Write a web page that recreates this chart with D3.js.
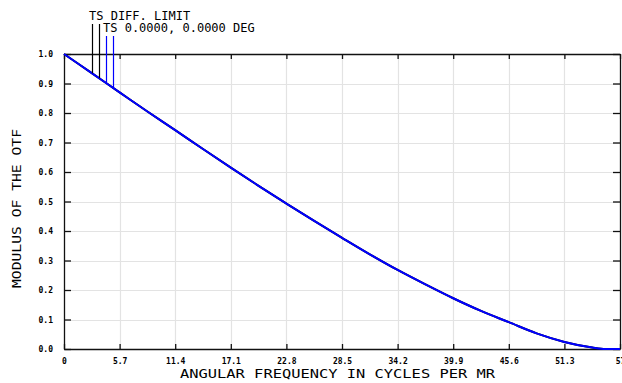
<!DOCTYPE html>
<html>
<head>
<meta charset="utf-8">
<script src="https://cdn.jsdelivr.net/npm/d3@7"></script>
<style>
  html, body { margin: 0; padding: 0; background: #fff; }
  svg { display: block; }
</style>
</head>
<body>
<script>
// Spatial frequency samples (cycles per mr)
const frequency = [0, 2.85, 5.7, 8.55, 11.4, 14.25, 17.1, 19.95, 22.8, 25.65, 28.5, 31.35,
                   34.2, 37.05, 39.9, 42.75, 45.6, 48.45, 51.3, 54.15, 55.5, 57];
// Diffraction-limited tangential MTF
const diffLimit = [1.000, 0.935, 0.870, 0.805, 0.742, 0.678, 0.615, 0.553, 0.493, 0.434, 0.377, 0.321,
                   0.268, 0.219, 0.172, 0.129, 0.091, 0.053, 0.024, 0.005, 0.000, 0.000];
// Tangential MTF at field 0.0000, 0.0000 deg
const tsField0 = [1.000, 0.935, 0.870, 0.805, 0.742, 0.678, 0.615, 0.553, 0.493, 0.434, 0.377, 0.321,
                  0.268, 0.219, 0.172, 0.129, 0.091, 0.053, 0.024, 0.005, 0.000, 0.000];

const xTicks = [0, 5.7, 11.4, 17.1, 22.8, 28.5, 34.2, 39.9, 45.6, 51.3, 57];
const xTickLabels = ["0", "5.7", "11.4", "17.1", "22.8", "28.5", "34.2", "39.9", "45.6", "51.3", "57"];
const yTicks = [0, 0.1, 0.2, 0.3, 0.4, 0.5, 0.6, 0.7, 0.8, 0.9, 1.0];
const yTickLabels = ["0.0", "0.1", "0.2", "0.3", "0.4", "0.5", "0.6", "0.7", "0.8", "0.9", "1.0"];

// Legend entries: label text and the frequencies where their leader lines drop to the curve
const legendLabels = ["TS DIFF. LIMIT", "TS 0.0000, 0.0000 DEG"];
const legendLeaders = [[2.87, 3.58], [4.27, 5.01]];

const W = 622, H = 383;
const plotL = 64, plotR = 620, plotT = 54, plotB = 349;

const svg = d3.select("body").append("svg")
  .attr("width", W).attr("height", H)
  .style("font-family", "'DejaVu Sans Mono', monospace");

const x = d3.scaleLinear().domain([0, 57]).range([plotL, plotR]);
const y = d3.scaleLinear().domain([0, 1]).range([plotB, plotT]);

// Grid
const grid = svg.append("g").attr("stroke", "#e3e3e3").attr("stroke-width", 1.2);
grid.selectAll("line.gx").data(xTicks.slice(1, -1)).join("line")
  .attr("x1", d => Math.round(x(d)) + 0.5).attr("x2", d => Math.round(x(d)) + 0.5)
  .attr("y1", plotT).attr("y2", plotB);
grid.selectAll("line.gy").data(yTicks.slice(1, -1)).join("line")
  .attr("x1", plotL).attr("x2", plotR)
  .attr("y1", d => Math.round(y(d)) + 0.5).attr("y2", d => Math.round(y(d)) + 0.5);

// Axes with inward ticks on all four sides
const fmtX = (d, i) => xTickLabels[i];
const fmtY = (d, i) => yTickLabels[i];

const axB = svg.append("g").attr("transform", `translate(0,${plotB})`)
  .call(d3.axisBottom(x).tickValues(xTicks).tickFormat(fmtX).tickSizeInner(-5).tickSizeOuter(0).tickPadding(9));
const axT = svg.append("g").attr("transform", `translate(0,${plotT})`)
  .call(d3.axisTop(x).tickValues(xTicks).tickFormat("").tickSizeInner(-5).tickSizeOuter(0));
const axL = svg.append("g").attr("transform", `translate(${plotL},0)`)
  .call(d3.axisLeft(y).tickValues(yTicks).tickFormat(fmtY).tickSizeInner(-7).tickSizeOuter(0).tickPadding(11));
const axR = svg.append("g").attr("transform", `translate(${plotR},0)`)
  .call(d3.axisRight(y).tickValues(yTicks).tickFormat("").tickSizeInner(-7).tickSizeOuter(0));

[axB, axT, axL, axR].forEach(a => {
  a.select(".domain").attr("stroke", "#111").attr("stroke-width", 1.3);
  a.selectAll(".tick line").attr("stroke", "#111").attr("stroke-width", 1.3);
  a.selectAll("text").attr("fill", "#000")
    .style("font-family", "'DejaVu Sans Mono', monospace")
    .style("font-size", "8px").style("font-weight", "bold");
});

// Curves
const line = d3.line()
  .x((d, i) => x(frequency[i]))
  .y(d => y(d))
  .curve(d3.curveMonotoneX);

svg.append("path").datum(diffLimit)
  .attr("d", line).attr("fill", "none")
  .attr("stroke", "#000").attr("stroke-width", 2);
svg.append("path").datum(tsField0)
  .attr("d", line).attr("fill", "none")
  .attr("stroke", "#0000ff").attr("stroke-width", 2);

// Legend with leader lines dropping onto each curve
const valueAt = (series, f) => {
  const i = d3.bisectRight(frequency, f) - 1;
  const t = (f - frequency[i]) / (frequency[i + 1] - frequency[i]);
  return series[i] + t * (series[i + 1] - series[i]);
};
const legendSeries = [diffLimit, tsField0];
const legendColors = ["#000", "#0000ff"];
const legendTextPos = [[89, 20], [103, 32]];
const leaderTop = [24, 36];

legendLabels.forEach((label, k) => {
  svg.append("text")
    .attr("x", legendTextPos[k][0]).attr("y", legendTextPos[k][1])
    .attr("font-size", 12).attr("fill", "#000")
    .text(label);
  legendLeaders[k].forEach(f => {
    svg.append("line")
      .attr("x1", Math.round(x(f)) + 0.5).attr("x2", Math.round(x(f)) + 0.5)
      .attr("y1", leaderTop[k]).attr("y2", y(valueAt(legendSeries[k], f)))
      .attr("stroke", legendColors[k]).attr("stroke-width", 1.2);
  });
});

// Axis titles (wide lettering)
svg.append("text")
  .attr("x", 180).attr("y", 378)
  .attr("font-size", 13).attr("fill", "#000")
  .attr("textLength", 315).attr("lengthAdjust", "spacingAndGlyphs")
  .text("ANGULAR FREQUENCY IN CYCLES PER MR");

svg.append("text")
  .attr("transform", "translate(21,208.5) rotate(-90)")
  .attr("text-anchor", "middle")
  .attr("font-size", 13).attr("fill", "#000")
  .attr("textLength", 159).attr("lengthAdjust", "spacingAndGlyphs")
  .text("MODULUS OF THE OTF");
</script>
</body>
</html>
